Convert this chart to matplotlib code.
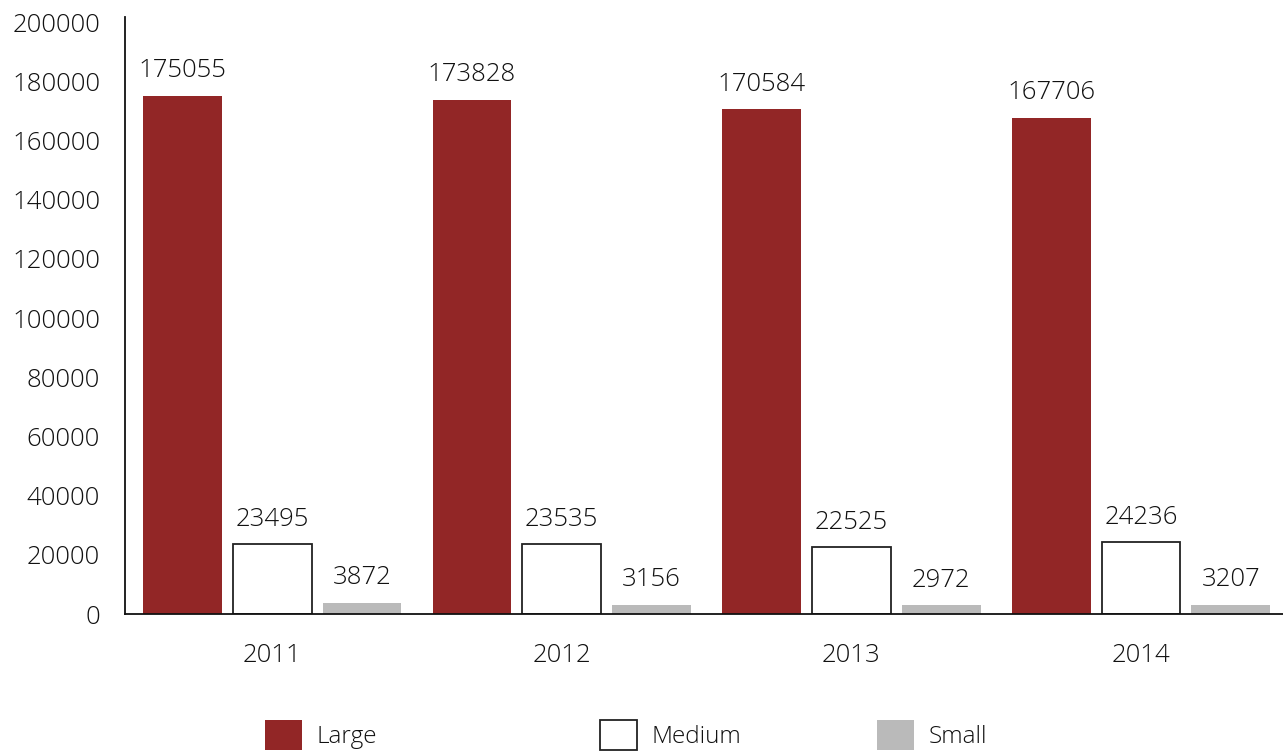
import matplotlib
matplotlib.use("Agg")
import matplotlib.pyplot as plt
import numpy as np

years = ["2011", "2012", "2013", "2014"]
large = [175055, 173828, 170584, 167706]
medium = [23495, 23535, 22525, 24236]
small = [3872, 3156, 2972, 3207]
series_names = ["Large", "Medium", "Small"]
y_ticks = [0, 20000, 40000, 60000, 80000, 100000, 120000, 140000, 160000, 180000, 200000]

plt.rcParams["font.family"] = ["Open Sans", "DejaVu Sans"]
plt.rcParams["font.weight"] = "light"
text_color = "#111111"
fs = 18.5
legend_fs = 17.5

W, H = 1283, 753
fig = plt.figure(figsize=(W / 100, H / 100), dpi=100)
ax = fig.add_axes([125 / W, (H - 614) / H, 1 - 125 / W, (614 - 17) / H])

x = np.arange(len(years))
width = 0.272
offset = 0.31

b_large = ax.bar(x - offset, large, width, color="#922626", edgecolor="none", label=series_names[0])
b_medium = ax.bar(x, medium, width, color="white", edgecolor="#222222", linewidth=1.3, label=series_names[1])
b_small = ax.bar(x + offset, small, width, color="#bababa", edgecolor="none", label=series_names[2])

for cont in (b_large, b_medium, b_small):
    ax.bar_label(cont, labels=[str(v) for v in cont.datavalues], padding=9,
                 fontsize=fs, color=text_color)

ax.set_xlim(-0.508, 3.49)
ax.set_ylim(0, 201750)
ax.set_yticks(y_ticks)
ax.set_yticklabels([str(v) for v in y_ticks])
ax.set_xticks(x)
ax.set_xticklabels(years)
ax.tick_params(axis="y", length=0, pad=18, labelsize=fs, labelcolor=text_color)
ax.tick_params(axis="x", length=0, pad=21, labelsize=fs, labelcolor=text_color)

for s in ("top", "right"):
    ax.spines[s].set_visible(False)
for s in ("left", "bottom"):
    ax.spines[s].set_color("#111111")
    ax.spines[s].set_linewidth(1.3)

# one-entry legends placed individually along the bottom
legend_x = [265, 600, 877]
hl = 37 / (legend_fs * 100 / 72)
for cont, name, lx in zip((b_large, b_medium, b_small), series_names, legend_x):
    fig.legend(handles=[cont.patches[0]], labels=[name], loc="lower left",
               bbox_to_anchor=(lx / W, 3 / H), frameon=False, borderpad=0,
               borderaxespad=0, handlelength=hl, handleheight=hl,
               handletextpad=0.6, fontsize=legend_fs, labelcolor=text_color)

fig.savefig("out.png", dpi=100)
